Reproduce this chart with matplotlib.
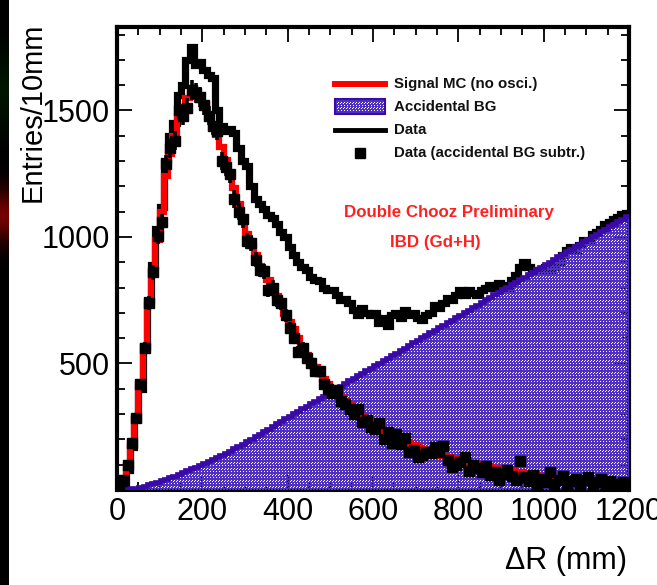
import numpy as np
import matplotlib
matplotlib.use('Agg')
import matplotlib.pyplot as plt
from matplotlib.ticker import MultipleLocator, FixedLocator
from matplotlib.lines import Line2D
from matplotlib.patches import Rectangle

# ---- data (10 mm bins from 0 to 1200 mm) ----
bin_edges = list(range(0, 1210, 10))

signal_mc = [5, 30, 100, 180, 280, 420, 560, 730, 860, 990,
             1100, 1240, 1330, 1400, 1480, 1515, 1550, 1567, 1557, 1540,
             1525, 1475, 1430, 1405, 1355, 1305, 1250, 1195, 1130, 1060,
             1010, 965, 930, 885, 860, 830, 795, 765, 730, 695,
             665, 637, 600, 565, 535, 510, 485, 460, 440, 420,
             400, 383, 366, 350, 335, 320, 306, 293, 281, 270,
             259, 248, 238, 228, 218, 209, 200, 192, 184, 177,
             170, 164, 158, 152, 146, 141, 136, 131, 126, 121,
             117, 113, 109, 105, 101, 97, 94, 91, 88, 85,
             82, 79, 76, 73, 70, 67, 64, 61, 58, 55,
             52, 50, 48, 46, 44, 42, 40, 38, 36, 34,
             33, 32, 31, 30, 29, 28, 27, 26, 25, 24]

accidental_bg = [0, 1, 3, 6, 9, 13, 17, 22, 27, 33,
                 39, 45, 51, 57, 64, 71, 78, 85, 92, 99,
                 107, 115, 123, 131, 139, 147, 156, 165, 174, 183,
                 193, 203, 213, 223, 233, 243, 253, 263, 273, 283,
                 293, 303, 313, 323, 333, 343, 353, 363, 373, 383,
                 393, 403, 413, 423, 433, 443, 453, 463, 473, 483,
                 493, 503, 513, 523, 533, 543, 553, 563, 573, 583,
                 593, 603, 613, 623, 633, 643, 653, 663, 673, 683,
                 693, 703, 713, 723, 733, 743, 753, 763, 773, 783,
                 793, 803, 813, 823, 833, 843, 853, 863, 873, 883,
                 893, 903, 913, 923, 933, 943, 953, 963, 973, 983,
                 993, 1003, 1013, 1023, 1033, 1043, 1053, 1063, 1073, 1083]

data_total = [10, 20, 80, 170, 280, 400, 570, 750, 890, 1030,
              1120, 1300, 1400, 1450, 1560, 1600, 1700, 1750, 1680, 1690,
              1660, 1640, 1630, 1500, 1440, 1420, 1425, 1410, 1350, 1300,
              1280, 1200, 1150, 1130, 1110, 1085, 1075, 1050, 1020, 1000,
              960, 930, 900, 880, 870, 840, 830, 825, 800, 790,
              790, 770, 750, 755, 740, 710, 690, 720, 700, 690,
              700, 660, 680, 650, 690, 700, 680, 710, 690, 700,
              680, 670, 690, 700, 730, 720, 740, 760, 750, 770,
              790, 770, 790, 780, 770, 790, 800, 810, 800, 820,
              810, 800, 830, 850, 880, 900, 880, 870, 860, 870,
              880, 870, 880, 900, 930, 950, 960, 950, 970, 990,
              990, 1010, 1020, 1030, 1050, 1060, 1070, 1080, 1090, 1095]

data_subtracted = [10, 40, 100, 185, 285, 420, 560, 740, 860, 1005,
                   1060, 1290, 1350, 1380, 1500, 1480, 1510, 1580, 1570, 1555,
                   1520, 1480, 1440, 1420, 1300, 1275, 1250, 1150, 1100, 1070,
                   985, 975, 910, 870, 865, 790, 800, 750, 740, 690,
                   640, 600, 545, 560, 520, 500, 470, 470, 420, 400,
                   385, 395, 350, 340, 320, 300, 320, 270, 275, 250,
                   240, 265, 200, 230, 185, 220, 180, 205, 150, 160,
                   130, 140, 150, 145, 170, 150, 175, 120, 90, 100,
                   110, 130, 75, 100, 85, 70, 95, 60, 70, 40,
                   65, 80, 55, 40, 115, 50, 35, 60, 20, 45,
                   30, 70, 25, 40, 55, 20, 35, 45, 10, 40,
                   50, 15, 30, 45, 20, 35, 25, 10, 30, 20]

x_ticks = [0, 200, 400, 600, 800, 1000, 1200]
y_ticks = [500, 1000, 1500]

legend_labels = ["Signal MC (no osci.)", "Accidental BG", "Data",
                 "Data (accidental BG subtr.)"]

# ---- style ----
plt.rcParams['font.family'] = ['Liberation Sans', 'DejaVu Sans']

W_PX, H_PX = 657, 585
fig = plt.figure(figsize=(W_PX / 100, H_PX / 100), dpi=100)
fig.patch.set_facecolor('white')

# dark strip at the left edge of the screenshot
strip = np.zeros((H_PX, 9, 3))
rows = np.arange(H_PX)[:, None]
strip[..., 0] = 0.45 * np.exp(-((rows - 215) / 25.0) ** 2)
strip[..., 1] = 0.08 * np.exp(-((rows - 90) / 40.0) ** 2)
fig.figimage(strip, xo=0, yo=0, origin='upper', zorder=0)

ax_l, ax_r, ax_t, ax_b = 117, 629, 27, 490
ax = fig.add_axes([ax_l / W_PX, 1 - ax_b / H_PX,
                   (ax_r - ax_l) / W_PX, (ax_b - ax_t) / H_PX])
ax.set_facecolor('white')

edges = np.array(bin_edges, dtype=float)
centers = 0.5 * (edges[:-1] + edges[1:])
sig = np.array(signal_mc, dtype=float)
bg = np.array(accidental_bg, dtype=float)
dat = np.array(data_total, dtype=float)
sub = np.array(data_subtracted, dtype=float)

YMAX = 1830
purple_line = '#3a0aa8'

# data histogram
ax.stairs(dat, edges, color='black', lw=5.2, baseline=None, zorder=2)

# accidental BG: dotted pattern clipped to histogram area
clip = ax.stairs(bg, edges, fill=True, facecolor='none', edgecolor='none',
                 zorder=1)
ph, pw = 463, 512
ii, jj = np.mgrid[0:ph, 0:pw]
pat = np.zeros((ph, pw, 4))
pat[..., 0] = 0.31
pat[..., 1] = 0.19
pat[..., 2] = 0.76
pat[..., 3] = 1.0
holes = ((ii % 3 == 0) & (jj % 3 == 0)) | ((ii % 3 == 1) & (jj % 3 == 2) & (ii % 2 == 0))
pat[holes, 3] = 0.0
im = ax.imshow(pat, extent=(0, 1200, 0, YMAX), aspect='auto',
               interpolation='nearest', zorder=3, origin='upper')
im.set_clip_path(clip)
ax.stairs(bg, edges, color=purple_line, lw=3.4, baseline=None, zorder=4)

# signal MC
ax.stairs(sig, edges, color='#ff0000', lw=4.5, baseline=None, zorder=5)

# subtracted data
ax.errorbar(centers, sub, yerr=np.sqrt(sub), fmt='s', ms=7.0, color='black',
            ecolor='black', elinewidth=2.6, capsize=0, zorder=6)

ax.set_xlim(0, 1200)
ax.set_ylim(0, YMAX)

# ---- axes / ticks ----
for side in ['left', 'top', 'right']:
    ax.spines[side].set_linewidth(3.0)
ax.spines['bottom'].set_linewidth(2.2)
ax.xaxis.set_major_locator(FixedLocator(x_ticks))
ax.xaxis.set_minor_locator(MultipleLocator(50))
ax.yaxis.set_major_locator(FixedLocator(y_ticks))
ax.yaxis.set_minor_locator(MultipleLocator(100))
ax.tick_params(which='both', direction='in', top=True, right=True,
               colors='black')
ax.tick_params(which='major', length=11, width=1.3, labelsize=22, pad=5)
ax.tick_params(which='minor', length=5.5, width=1.3)
ax.set_xticklabels([str(v) for v in x_ticks])
ax.set_yticklabels([str(v) for v in y_ticks])

# axis titles (ROOT style, aligned to the axis ends)
fig.text(33 / W_PX, 1 - 23 / H_PX, "Entries/10mm", rotation=90,
         ha='center', va='top', fontsize=21)
fig.text(627 / W_PX, 1 - 561 / H_PX, "\u0394R (mm)", ha='right',
         va='center', fontsize=22)

# ---- legend (drawn manually) ----
def ax_x(px):
    return (px - ax_l) / (ax_r - ax_l)

def ax_y(py):
    return (ax_b - py) / (ax_b - ax_t)

x0, x1, xt = ax_x(335), ax_x(385), ax_x(394)
row_y = [ax_y(84), ax_y(107), ax_y(130), ax_y(153)]
ax.add_line(Line2D([x0, x1], [row_y[0]] * 2, color='#ff0000', lw=4.3,
                   transform=ax.transAxes, zorder=10))
leg_im = ax.imshow(pat[:16, :50], extent=(x0, x1, ax_y(114), ax_y(99)),
                   transform=ax.transAxes, aspect='auto',
                   interpolation='nearest', zorder=10)
ax.add_patch(Rectangle((x0, ax_y(114)), x1 - x0, ax_y(99) - ax_y(114),
                       transform=ax.transAxes, facecolor='none',
                       edgecolor=purple_line, lw=1.5, zorder=11))
ax.add_line(Line2D([x0, x1], [row_y[2]] * 2, color='black', lw=3.5,
                   transform=ax.transAxes, zorder=10))
ax.errorbar([0.5 * (x0 + x1)], [row_y[3]], yerr=[0.01], fmt='s', ms=6.5,
            color='black', elinewidth=2.6, capsize=0,
            transform=ax.transAxes, zorder=10)
for lab, yy in zip(legend_labels, row_y):
    ax.text(xt, yy, lab, transform=ax.transAxes, ha='left', va='center',
            fontsize=10.8, fontweight='bold', color='#111111', zorder=12)
ax.set_xlim(0, 1200)
ax.set_ylim(0, YMAX)

ax.text(ax_x(449), ax_y(213), "Double Chooz Preliminary",
        transform=ax.transAxes, ha='center', va='center', fontsize=12.2,
        fontweight='bold', color='#ff2020', zorder=12)
ax.text(ax_x(435), ax_y(243), "IBD (Gd+H)", transform=ax.transAxes,
        ha='center', va='center', fontsize=12.2, fontweight='bold',
        color='#ff2020', zorder=12)

fig.savefig('out.png', dpi=100)
